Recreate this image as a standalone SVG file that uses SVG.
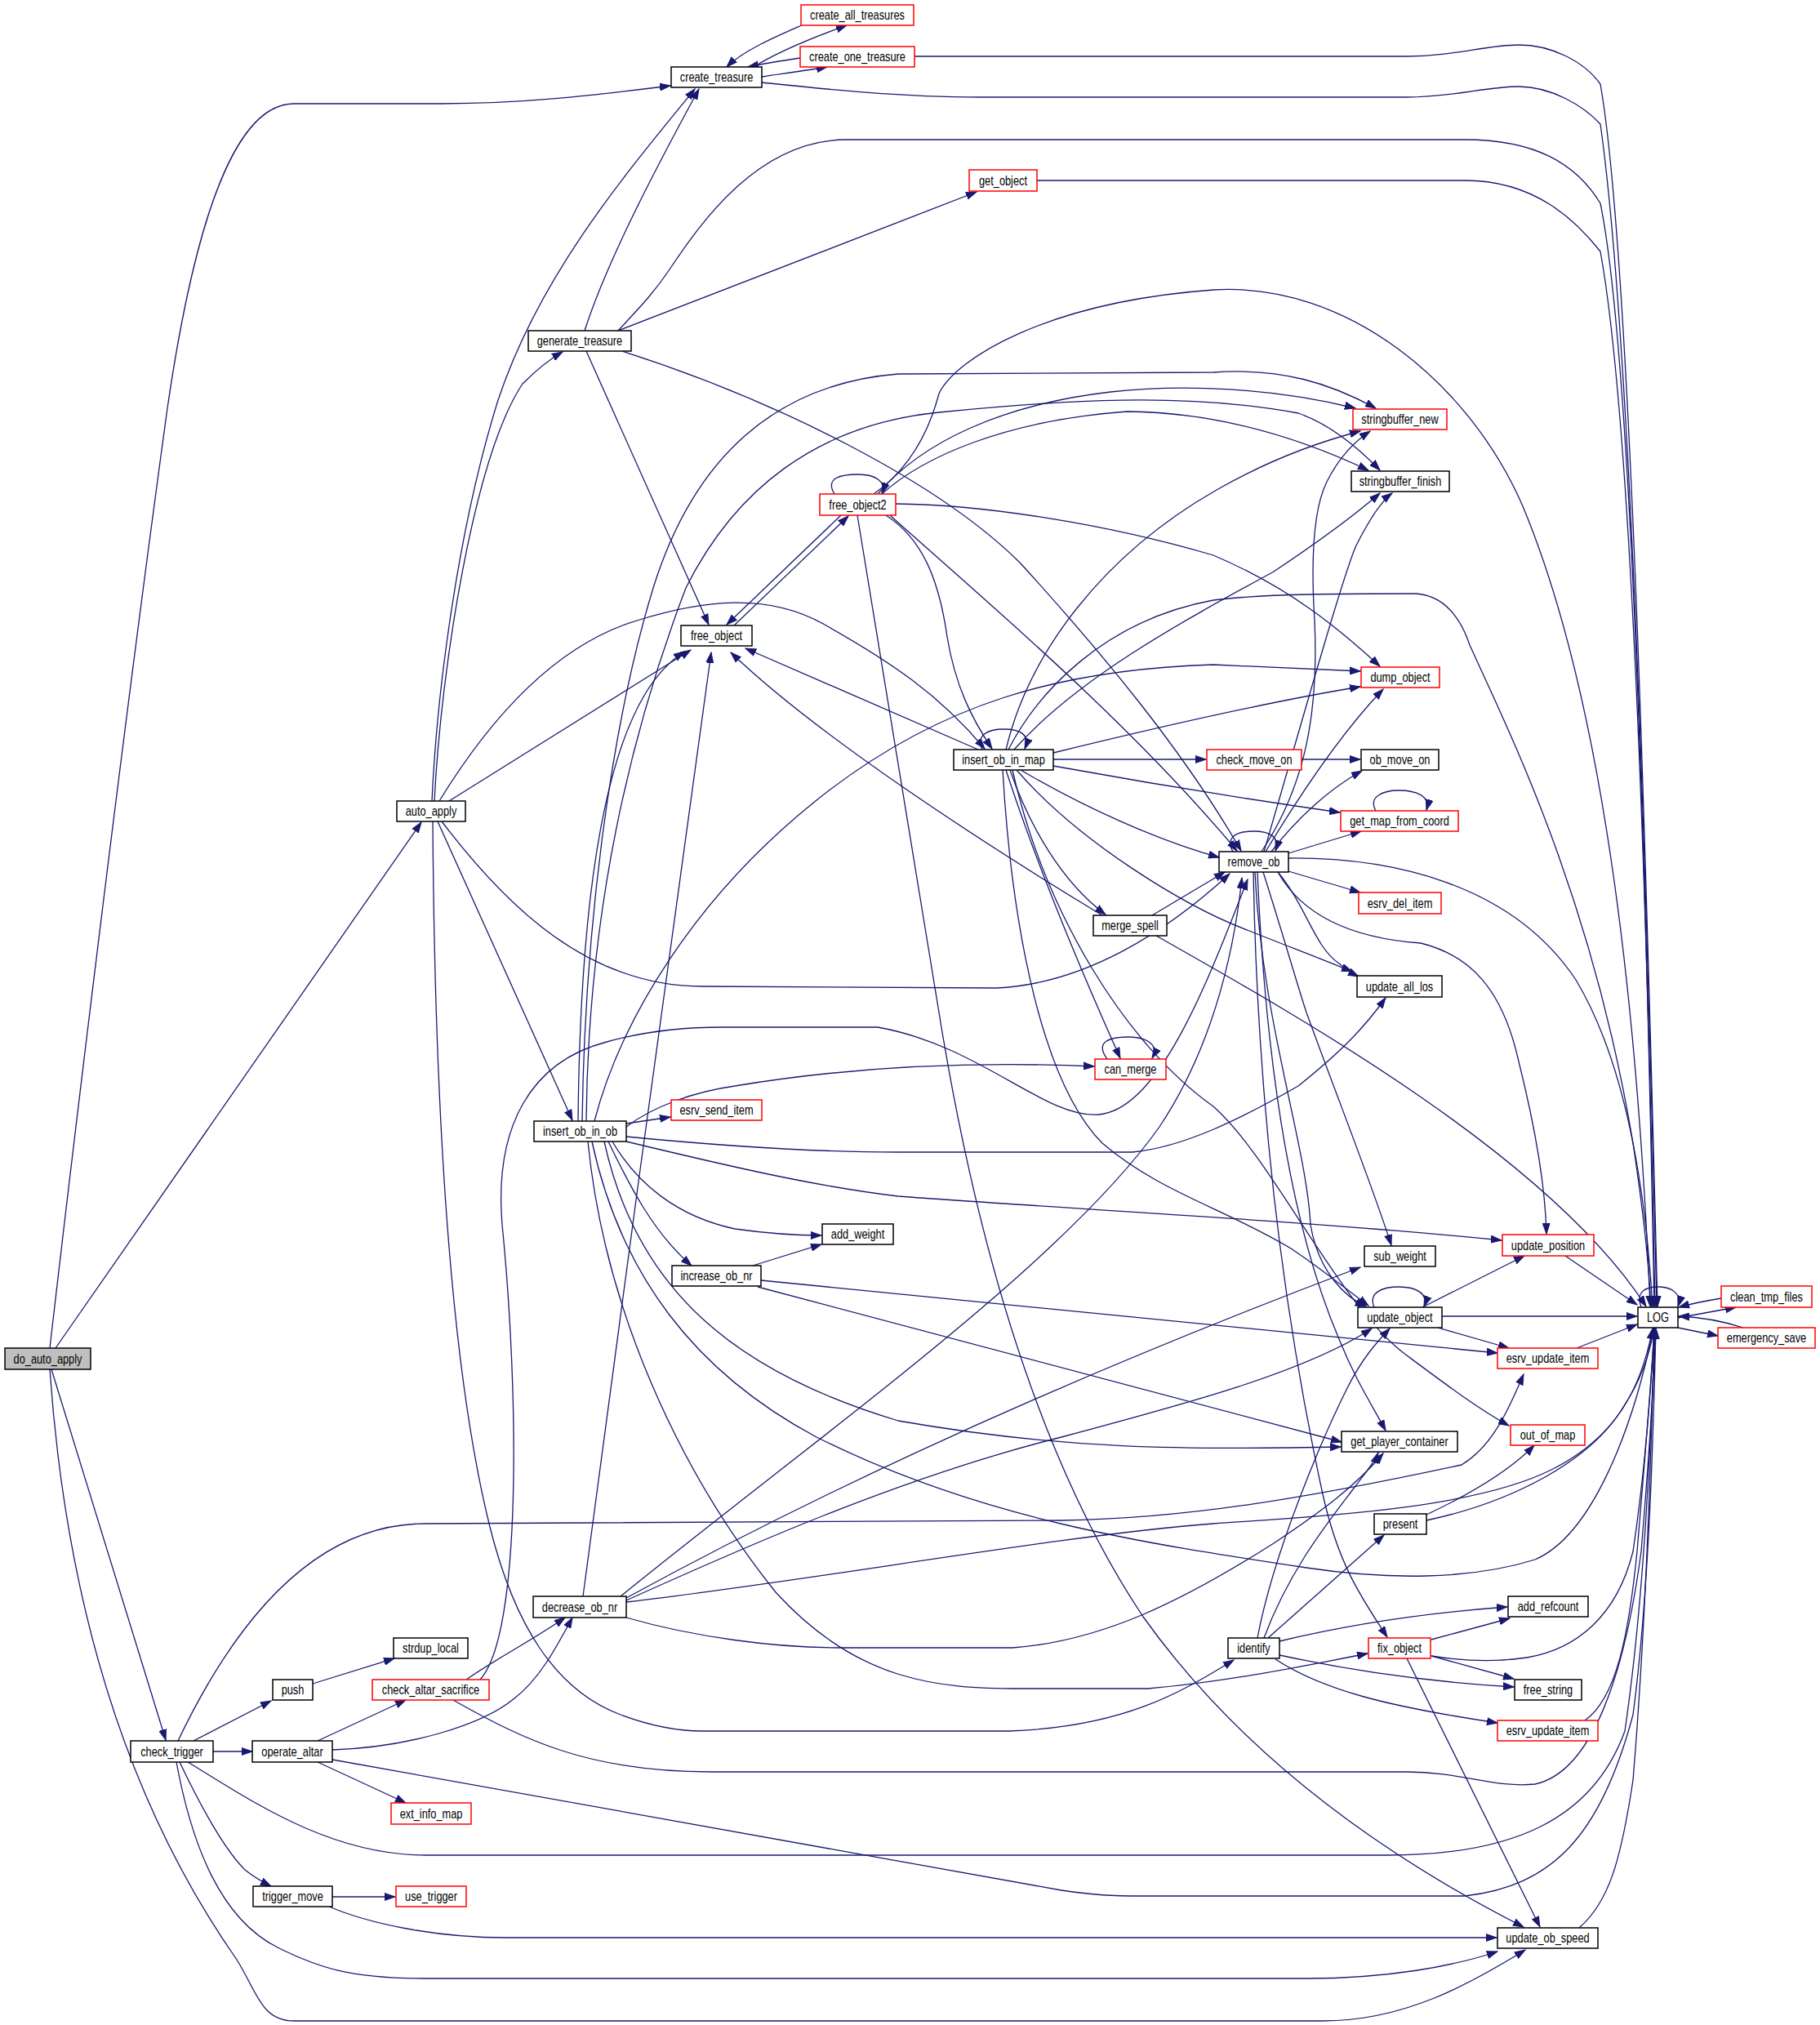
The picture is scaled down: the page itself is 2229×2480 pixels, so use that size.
<svg xmlns="http://www.w3.org/2000/svg" width="2229" height="2480" viewBox="0 0 2229 2480">
<defs>
<style>
.n rect{fill:#fff;stroke:#000;stroke-width:1.5}
.n.r rect{stroke:#ff0000}
.n.g rect{fill:#bfbfbf}
.n text{font-family:"Liberation Sans",Arial,sans-serif;font-size:16px;text-anchor:middle;fill:#000}
#edges path{fill:none;stroke:#191970;stroke-width:1.3;marker-end:url(#a)}
</style>
<marker id="a" markerWidth="14" markerHeight="10" refX="13" refY="5" orient="auto" markerUnits="userSpaceOnUse"><path d="M0,0.5 L13,5 L0,9.5 z" fill="#191970" stroke="#191970" stroke-width="1"/></marker>
</defs>
<rect width="2229" height="2480" fill="#fff"/>
<g id="edges">
<path d="M61,1651 C90,1400 150,900 205,500 C240,260 290,127 360,127 L540,127 C650,127 740,115 821,105"/>
<path d="M68,1651 L516,1007"/>
<path d="M63,1677 L203,2131"/>
<path d="M61,1677 C80,1950 150,2200 290,2400 C315,2440 320,2475 360,2475 L1620,2475 C1720,2475 1800,2430 1868,2388"/>
<path d="M529,981 C535,850 560,650 610,490 C660,340 760,220 851,109"/>
<path d="M716,405 C740,330 790,230 856,109"/>
<path d="M532,981 C540,820 580,560 640,470 C660,450 673,440 689,431"/>
<path d="M538,981 C600,880 680,790 780,760 C860,735 940,725 1010,765 C1090,810 1150,850 1206,917"/>
<path d="M550,981 L846,796"/>
<path d="M536,1006 L701,1372"/>
<path d="M541,1006 C620,1110 720,1208 860,1208 L1220,1210 C1330,1205 1430,1140 1506,1070"/>
<path d="M530,1006 C532,1300 545,1650 600,1870 C630,1990 680,2070 760,2100 C800,2115 830,2120 860,2120 L1236,2120 C1380,2115 1450,2070 1511,2033"/>
<path d="M757,405 L1196,235"/>
<path d="M718,430 L868,765"/>
<path d="M762,430 C950,490 1150,590 1250,690 C1350,800 1450,920 1520,1042"/>
<path d="M757,405 C780,380 800,360 820,330 C860,270 930,171 1037,171 L1794,171 C1880,171 1930,200 1960,249 C1995,420 2015,1000 2026,1600"/>
<path d="M923,82 C950,65 990,48 1037,31"/>
<path d="M982,31 C950,45 910,62 890,82"/>
<path d="M980,71 C960,74 940,77 916,82"/>
<path d="M933,94 C960,90 990,86 1013,82"/>
<path d="M1120,69 L1723,69 C1780,69 1820,55 1860,55 C1900,55 1940,75 1960,103 C1995,300 2015,1000 2030,1600"/>
<path d="M933,101 C1000,108 1100,119 1200,119 L1723,119 C1780,119 1820,106 1860,106 C1900,106 1940,130 1960,152 C1995,400 2015,1000 2029,1600"/>
<path d="M1270,221 L1794,221 C1880,221 1930,270 1960,308 C1995,500 2015,1000 2027,1600"/>
<path d="M1022,605 C1010,585 1030,581 1051,581 C1072,581 1086,590 1080,604"/>
<path d="M1030,631 L890,765"/>
<path d="M899,766 L1039,632"/>
<path d="M1075,605 C1130,540 1230,495 1360,480 C1450,470 1560,475 1660,500"/>
<path d="M1080,605 C1130,560 1230,515 1380,504 C1500,505 1600,540 1676,576"/>
<path d="M1097,617 C1200,618 1350,640 1486,680 C1580,720 1640,770 1690,816"/>
<path d="M1070,605 C1120,570 1140,520 1150,482 C1170,440 1280,370 1486,355 C1650,345 1800,470 1865,620 C1940,800 2000,1100 2021,1600"/>
<path d="M1085,631 C1130,660 1150,710 1160,780 C1170,840 1190,880 1215,917"/>
<path d="M1090,631 C1200,730 1380,880 1515,1042"/>
<path d="M1050,631 L1150,1240 C1200,1550 1280,1800 1400,1980 C1500,2120 1650,2250 1866,2360"/>
<path d="M708,1373 C710,1150 730,950 790,850 C805,825 820,810 838,798"/>
<path d="M713,1373 C716,1150 745,900 800,720 C850,560 950,470 1100,458 L1486,456 C1570,450 1630,470 1685,500"/>
<path d="M718,1373 C720,1150 760,930 840,720 C900,600 1000,520 1150,505 C1300,490 1450,480 1590,506 C1630,520 1665,550 1690,576"/>
<path d="M728,1373 C760,1250 850,1100 1000,980 C1150,860 1300,820 1486,814 L1666,822"/>
<path d="M767,1380 C800,1355 850,1337 900,1330 C1050,1305 1200,1300 1340,1306"/>
<path d="M767,1376 L821,1368"/>
<path d="M767,1392 C900,1405 1000,1411 1100,1411 L1387,1411 C1450,1405 1520,1370 1590,1330 C1640,1290 1670,1260 1697,1222"/>
<path d="M767,1398 C900,1430 1000,1453 1100,1465 C1300,1480 1600,1495 1839,1519"/>
<path d="M750,1398 C780,1450 830,1490 900,1505 C950,1512 980,1513 1006,1513"/>
<path d="M745,1398 C770,1450 800,1510 847,1550"/>
<path d="M740,1398 C780,1580 900,1680 1100,1740 C1300,1775 1450,1776 1642,1772"/>
<path d="M725,1398 C760,1560 850,1680 1000,1760 C1200,1860 1400,1890 1600,1920 C1700,1935 1800,1935 1880,1910 C1950,1880 2000,1750 2025,1627"/>
<path d="M720,1398 C740,1600 830,1800 950,1950 C1050,2060 1150,2068 1250,2068 L1406,2068 C1500,2060 1600,2040 1675,2025"/>
<path d="M1203,918 C1195,900 1210,893 1229,893 C1250,893 1262,900 1255,917"/>
<path d="M1198,918 L913,794"/>
<path d="M1232,918 C1260,800 1350,680 1490,600 C1560,560 1620,540 1666,528"/>
<path d="M1242,918 C1320,830 1450,760 1560,700 C1620,660 1660,630 1690,604"/>
<path d="M1290,922 C1400,895 1550,860 1666,841"/>
<path d="M1290,930 L1477,930"/>
<path d="M1290,938 C1400,958 1550,982 1641,995"/>
<path d="M1250,943 C1330,990 1420,1030 1493,1050"/>
<path d="M1237,943 C1260,1010 1300,1080 1354,1120"/>
<path d="M1245,943 C1320,1030 1450,1110 1530,1140 C1580,1160 1620,1175 1656,1190"/>
<path d="M1232,943 C1270,1060 1320,1180 1372,1296"/>
<path d="M1228,943 C1240,1150 1280,1330 1350,1400 C1420,1460 1500,1480 1581,1529 C1620,1555 1650,1580 1676,1599"/>
<path d="M1240,943 C1280,1120 1380,1280 1486,1355 C1560,1420 1640,1600 1723,1660 C1770,1695 1810,1725 1848,1746"/>
<path d="M1235,918 C1270,850 1350,760 1486,735 C1550,727 1650,727 1730,727 C1770,727 1790,760 1800,790 C1850,900 1950,1100 2000,1400 C2015,1500 2020,1560 2022,1600"/>
<path d="M1594,930 L1666,930"/>
<path d="M1510,1043 C1500,1025 1515,1018 1535,1018 C1555,1018 1568,1025 1562,1042"/>
<path d="M1545,1043 C1600,960 1615,870 1610,760 C1605,680 1610,620 1625,590 C1640,560 1660,540 1678,528"/>
<path d="M1548,1043 C1590,900 1640,720 1660,670 C1675,640 1690,615 1705,604"/>
<path d="M1550,1043 C1600,960 1650,890 1694,844"/>
<path d="M1557,1043 C1590,1000 1630,965 1668,944"/>
<path d="M1578,1045 L1667,1018"/>
<path d="M1578,1067 L1666,1093"/>
<path d="M1578,1051 C1700,1050 1850,1080 1930,1200 C1990,1300 2015,1450 2024,1600"/>
<path d="M1565,1068 C1600,1130 1670,1150 1740,1155 C1800,1170 1840,1210 1860,1300 C1885,1400 1893,1470 1894,1511"/>
<path d="M1565,1068 C1600,1110 1610,1160 1640,1180 C1650,1188 1658,1193 1664,1196"/>
<path d="M1547,1068 C1570,1140 1590,1210 1600,1240 C1640,1350 1680,1450 1704,1525"/>
<path d="M1537,1068 C1545,1250 1600,1400 1605,1500 C1615,1560 1650,1590 1673,1600"/>
<path d="M1540,1068 C1550,1300 1580,1500 1640,1640 C1660,1690 1680,1720 1697,1752"/>
<path d="M1535,1068 C1540,1350 1570,1600 1620,1830 C1640,1920 1670,1960 1699,2005"/>
<path d="M1685,993 C1675,975 1695,968 1713,968 C1735,968 1752,975 1747,992"/>
<path d="M1350,1121 C1200,1030 1000,900 895,799"/>
<path d="M1411,1121 L1500,1068"/>
<path d="M1416,1146 C1600,1250 1900,1420 2016,1600"/>
<path d="M1356,1297 C1340,1275 1360,1270 1382,1270 C1405,1270 1420,1280 1411,1296"/>
<path d="M922,1550 L1006,1524"/>
<path d="M932,1568 L1834,1657"/>
<path d="M928,1576 L1643,1766"/>
<path d="M1683,1601 C1675,1582 1695,1576 1713,1576 C1735,1576 1750,1585 1744,1600"/>
<path d="M1742,1601 L1867,1538"/>
<path d="M1766,1612 L2005,1612"/>
<path d="M1761,1626 L1848,1651"/>
<path d="M1917,1538 L2005,1598"/>
<path d="M1931,1651 L2005,1622"/>
<path d="M2010,1601 C2003,1582 2015,1576 2031,1576 C2048,1576 2060,1585 2055,1600"/>
<path d="M2108,1590 C2090,1593 2070,1597 2056,1601"/>
<path d="M2055,1614 L2126,1601"/>
<path d="M2135,1626 C2110,1618 2080,1613 2056,1612"/>
<path d="M2055,1626 L2104,1636"/>
<path d="M1747,1855 C1800,1830 1850,1800 1879,1770"/>
<path d="M1747,1862 C1850,1840 1950,1790 1990,1720 C2010,1690 2020,1660 2026,1627"/>
<path d="M714,1955 C760,1600 830,1100 871,799"/>
<path d="M760,1955 C1000,1760 1300,1550 1420,1380 C1480,1290 1510,1180 1521,1075"/>
<path d="M767,1957 C1000,1830 1300,1690 1666,1552"/>
<path d="M767,1960 C900,1900 1100,1810 1300,1760 C1450,1720 1600,1680 1680,1627"/>
<path d="M767,1962 C1000,1935 1300,1880 1486,1866 C1600,1858 1800,1850 1900,1800 C1980,1760 2010,1700 2024,1627"/>
<path d="M767,1981 C850,2005 950,2018 1027,2018 L1240,2018 C1350,2010 1450,1960 1560,1890 C1620,1850 1660,1820 1694,1780"/>
<path d="M1540,2006 C1560,1900 1620,1760 1650,1700 C1670,1660 1690,1640 1702,1627"/>
<path d="M1548,2006 C1580,1920 1630,1860 1660,1820 C1675,1800 1684,1790 1688,1779"/>
<path d="M1553,2006 L1695,1880"/>
<path d="M1567,2010 C1650,1990 1750,1975 1846,1968"/>
<path d="M1567,2027 C1650,2045 1750,2060 1854,2066"/>
<path d="M1562,2032 C1620,2070 1700,2090 1834,2110"/>
<path d="M1753,2008 L1849,1982"/>
<path d="M1753,2028 L1854,2056"/>
<path d="M1753,2028 C1790,2034 1830,2036 1870,2030 C1930,2020 1980,1980 2000,1900 C2015,1800 2022,1700 2026,1627"/>
<path d="M1723,2031 L1886,2360"/>
<path d="M1941,2107 C1980,2080 1995,2000 2005,1900 C2015,1780 2022,1700 2026,1627"/>
<path d="M1934,2361 C1970,2330 1985,2280 2000,2180 C2015,2000 2022,1800 2026,1627"/>
<path d="M237,2132 L332,2083"/>
<path d="M261,2145 L309,2145"/>
<path d="M220,2158 C240,2200 270,2260 300,2290 C310,2298 320,2304 332,2310"/>
<path d="M218,2132 C300,1960 400,1866 521,1866 L1300,1862 C1450,1860 1600,1835 1790,1794 C1830,1770 1850,1720 1866,1683"/>
<path d="M230,2158 C300,2200 400,2272 521,2272 L1700,2272 C1850,2272 1950,2230 1990,2120 C2015,1950 2022,1750 2027,1627"/>
<path d="M216,2158 C235,2260 270,2350 340,2385 C390,2410 430,2423 520,2423 L1600,2423 C1700,2423 1780,2408 1834,2390"/>
<path d="M383,2062 L483,2031"/>
<path d="M389,2132 L497,2082"/>
<path d="M407,2143 C500,2140 590,2113 630,2080 C660,2057 680,2020 701,1981"/>
<path d="M389,2158 L497,2208"/>
<path d="M407,2155 L1300,2315 C1340,2321 1360,2322 1400,2322 L1794,2322 C1900,2310 1960,2250 2000,2100 C2020,1950 2025,1750 2028,1627"/>
<path d="M571,2057 C610,2030 650,2010 692,1981"/>
<path d="M588,2057 C640,2000 635,1700 615,1500 C605,1380 650,1300 743,1276 C800,1260 850,1258 885,1258 L1075,1258 C1200,1280 1280,1370 1345,1365 C1420,1360 1480,1200 1528,1077"/>
<path d="M555,2082 C640,2130 720,2170 871,2170 L1723,2170 C1790,2170 1830,2190 1880,2185 C1950,2170 1990,2050 2010,1900 C2020,1780 2025,1700 2028,1627"/>
<path d="M407,2323 L484,2323"/>
<path d="M403,2335 C450,2355 530,2373 620,2373 L1833,2373"/>
</g>
<g id="n_do_auto_apply" class="n g"><rect x="6" y="1651" width="105" height="26"/><text transform="translate(58.5,1669.5) scale(0.8,1)">do_auto_apply</text></g>
<g id="n_create_all_treasures" class="n r"><rect x="981" y="6" width="138" height="25"/><text transform="translate(1050,24) scale(0.8,1)">create_all_treasures</text></g>
<g id="n_create_one_treasure" class="n r"><rect x="980" y="57" width="140" height="25"/><text transform="translate(1050,75) scale(0.8,1)">create_one_treasure</text></g>
<g id="n_create_treasure" class="n"><rect x="822" y="82" width="111" height="25"/><text transform="translate(877.5,100) scale(0.8,1)">create_treasure</text></g>
<g id="n_get_object" class="n r"><rect x="1187" y="208" width="83" height="26"/><text transform="translate(1228.5,226.5) scale(0.8,1)">get_object</text></g>
<g id="n_generate_treasure" class="n"><rect x="647" y="405" width="126" height="25"/><text transform="translate(710,423) scale(0.8,1)">generate_treasure</text></g>
<g id="n_stringbuffer_new" class="n r"><rect x="1657" y="501" width="115" height="25"/><text transform="translate(1714.5,519) scale(0.8,1)">stringbuffer_new</text></g>
<g id="n_stringbuffer_finish" class="n"><rect x="1655" y="577" width="120" height="25"/><text transform="translate(1715,595) scale(0.8,1)">stringbuffer_finish</text></g>
<g id="n_free_object2" class="n r"><rect x="1004" y="605" width="93" height="26"/><text transform="translate(1050.5,623.5) scale(0.8,1)">free_object2</text></g>
<g id="n_free_object" class="n"><rect x="834" y="766" width="87" height="25"/><text transform="translate(877.5,784) scale(0.8,1)">free_object</text></g>
<g id="n_dump_object" class="n r"><rect x="1667" y="817" width="96" height="25"/><text transform="translate(1715,835) scale(0.8,1)">dump_object</text></g>
<g id="n_insert_ob_in_map" class="n"><rect x="1168" y="918" width="122" height="25"/><text transform="translate(1229,936) scale(0.8,1)">insert_ob_in_map</text></g>
<g id="n_check_move_on" class="n r"><rect x="1478" y="918" width="116" height="25"/><text transform="translate(1536,936) scale(0.8,1)">check_move_on</text></g>
<g id="n_ob_move_on" class="n"><rect x="1667" y="918" width="95" height="25"/><text transform="translate(1714.5,936) scale(0.8,1)">ob_move_on</text></g>
<g id="n_get_map_from_coord" class="n r"><rect x="1642" y="993" width="144" height="25"/><text transform="translate(1714,1011) scale(0.8,1)">get_map_from_coord</text></g>
<g id="n_auto_apply" class="n"><rect x="486" y="981" width="84" height="25"/><text transform="translate(528,999) scale(0.8,1)">auto_apply</text></g>
<g id="n_remove_ob" class="n"><rect x="1493" y="1043" width="85" height="25"/><text transform="translate(1535.5,1061) scale(0.8,1)">remove_ob</text></g>
<g id="n_esrv_del_item" class="n r"><rect x="1664" y="1093" width="101" height="26"/><text transform="translate(1714.5,1111.5) scale(0.8,1)">esrv_del_item</text></g>
<g id="n_merge_spell" class="n"><rect x="1339" y="1121" width="90" height="25"/><text transform="translate(1384,1139) scale(0.8,1)">merge_spell</text></g>
<g id="n_update_all_los" class="n"><rect x="1662" y="1195" width="104" height="26"/><text transform="translate(1714,1213.5) scale(0.8,1)">update_all_los</text></g>
<g id="n_can_merge" class="n r"><rect x="1341" y="1297" width="87" height="25"/><text transform="translate(1384.5,1315) scale(0.8,1)">can_merge</text></g>
<g id="n_esrv_send_item" class="n r"><rect x="822" y="1347" width="111" height="25"/><text transform="translate(877.5,1365) scale(0.8,1)">esrv_send_item</text></g>
<g id="n_insert_ob_in_ob" class="n"><rect x="654" y="1373" width="113" height="25"/><text transform="translate(710.5,1391) scale(0.8,1)">insert_ob_in_ob</text></g>
<g id="n_add_weight" class="n"><rect x="1007" y="1499" width="87" height="25"/><text transform="translate(1050.5,1517) scale(0.8,1)">add_weight</text></g>
<g id="n_update_position" class="n r"><rect x="1840" y="1512" width="112" height="26"/><text transform="translate(1896,1530.5) scale(0.8,1)">update_position</text></g>
<g id="n_sub_weight" class="n"><rect x="1671" y="1526" width="87" height="25"/><text transform="translate(1714.5,1544) scale(0.8,1)">sub_weight</text></g>
<g id="n_increase_ob_nr" class="n"><rect x="823" y="1550" width="109" height="25"/><text transform="translate(877.5,1568) scale(0.8,1)">increase_ob_nr</text></g>
<g id="n_update_object" class="n"><rect x="1663" y="1601" width="103" height="25"/><text transform="translate(1714.5,1619) scale(0.8,1)">update_object</text></g>
<g id="n_LOG" class="n"><rect x="2006" y="1601" width="49" height="25"/><text transform="translate(2030.5,1619) scale(0.8,1)">LOG</text></g>
<g id="n_clean_tmp_files" class="n r"><rect x="2108" y="1575" width="111" height="26"/><text transform="translate(2163.5,1593.5) scale(0.8,1)">clean_tmp_files</text></g>
<g id="n_emergency_save" class="n r"><rect x="2104" y="1626" width="119" height="25"/><text transform="translate(2163.5,1644) scale(0.8,1)">emergency_save</text></g>
<g id="n_esrv_update_item_1" class="n r"><rect x="1834" y="1651" width="123" height="25"/><text transform="translate(1895.5,1669) scale(0.8,1)">esrv_update_item</text></g>
<g id="n_out_of_map" class="n r"><rect x="1850" y="1745" width="91" height="25"/><text transform="translate(1895.5,1763) scale(0.8,1)">out_of_map</text></g>
<g id="n_get_player_container" class="n"><rect x="1643" y="1753" width="142" height="25"/><text transform="translate(1714,1771) scale(0.8,1)">get_player_container</text></g>
<g id="n_present" class="n"><rect x="1683" y="1854" width="64" height="25"/><text transform="translate(1715,1872) scale(0.8,1)">present</text></g>
<g id="n_decrease_ob_nr" class="n"><rect x="653" y="1955" width="114" height="26"/><text transform="translate(710,1973.5) scale(0.8,1)">decrease_ob_nr</text></g>
<g id="n_add_refcount" class="n"><rect x="1847" y="1955" width="98" height="25"/><text transform="translate(1896,1973) scale(0.8,1)">add_refcount</text></g>
<g id="n_identify" class="n"><rect x="1504" y="2006" width="63" height="25"/><text transform="translate(1535.5,2024) scale(0.8,1)">identify</text></g>
<g id="n_strdup_local" class="n"><rect x="482" y="2006" width="91" height="25"/><text transform="translate(527.5,2024) scale(0.8,1)">strdup_local</text></g>
<g id="n_fix_object" class="n r"><rect x="1676" y="2006" width="76" height="25"/><text transform="translate(1714,2024) scale(0.8,1)">fix_object</text></g>
<g id="n_free_string" class="n"><rect x="1855" y="2057" width="82" height="25"/><text transform="translate(1896,2075) scale(0.8,1)">free_string</text></g>
<g id="n_push" class="n"><rect x="334" y="2057" width="49" height="25"/><text transform="translate(358.5,2075) scale(0.8,1)">push</text></g>
<g id="n_check_altar_sacrifice" class="n r"><rect x="456" y="2057" width="143" height="25"/><text transform="translate(527.5,2075) scale(0.8,1)">check_altar_sacrifice</text></g>
<g id="n_esrv_update_item_2" class="n r"><rect x="1834" y="2107" width="123" height="25"/><text transform="translate(1895.5,2125) scale(0.8,1)">esrv_update_item</text></g>
<g id="n_check_trigger" class="n"><rect x="160" y="2132" width="101" height="26"/><text transform="translate(210.5,2150.5) scale(0.8,1)">check_trigger</text></g>
<g id="n_operate_altar" class="n"><rect x="309" y="2132" width="98" height="26"/><text transform="translate(358,2150.5) scale(0.8,1)">operate_altar</text></g>
<g id="n_ext_info_map" class="n r"><rect x="479" y="2208" width="98" height="26"/><text transform="translate(528,2226.5) scale(0.8,1)">ext_info_map</text></g>
<g id="n_trigger_move" class="n"><rect x="310" y="2310" width="97" height="25"/><text transform="translate(358.5,2328) scale(0.8,1)">trigger_move</text></g>
<g id="n_use_trigger" class="n r"><rect x="485" y="2310" width="86" height="25"/><text transform="translate(528,2328) scale(0.8,1)">use_trigger</text></g>
<g id="n_update_ob_speed" class="n"><rect x="1834" y="2361" width="123" height="25"/><text transform="translate(1895.5,2379) scale(0.8,1)">update_ob_speed</text></g>
</svg>
